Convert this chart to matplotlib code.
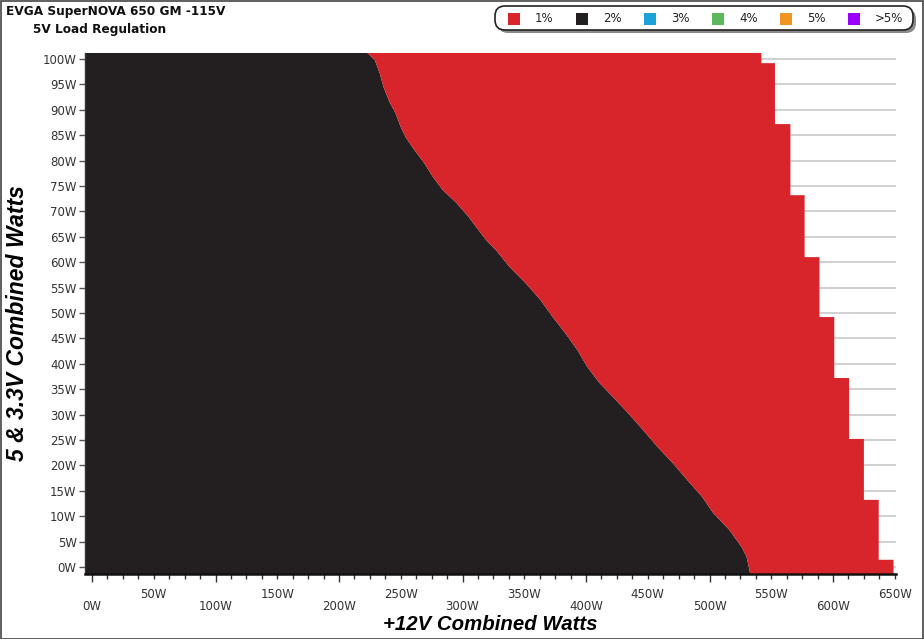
import matplotlib
matplotlib.use("Agg")
import matplotlib.pyplot as plt
from matplotlib.patches import Polygon, FancyBboxPatch, Rectangle
import numpy as np

# ---------------- data ----------------
title = "EVGA SuperNOVA 650 GM -115V"
subtitle = "5V Load Regulation"
legend_labels = ["1%", "2%", "3%", "4%", "5%", ">5%"]
legend_colors = ["#d7252b", "#231f20", "#1ba3d8", "#5cb85c", "#f0951f", "#9b00ff"]

# boundary between the 2% (left) and 1% (right) zones: 5V load -> 12V load
boundary_5v = [-1.4, 2.0, 3.9, 7.3, 10.6, 13.8, 17.1, 20.5, 23.6, 27.0, 30.3, 32.9,
               36.2, 39.4, 42.7, 46.1, 49.2, 52.6, 55.9, 59.1, 62.4, 64.4, 66.3,
               68.9, 71.7, 74.2, 76.8, 79.5, 82.1, 84.6, 86.6, 89.2, 91.5, 94.5,
               97.2, 99.8, 101.2]
boundary_12v = [533, 530, 526, 516, 503, 494, 482, 470, 458, 446, 434, 424,
                411, 401, 393, 383, 373, 363, 351, 338, 327, 319, 313,
                305, 295, 284, 276, 269, 261, 254, 250, 246, 241, 236,
                233, 229, 223]

# maximum combined load envelope (step edges in 5V load, max 12V load per band)
max_5v_edges = [-1.4, 1.4, 13.2, 25.2, 37.2, 49.2, 61.0, 73.2, 87.2, 99.2, 101.2]
max_12v = [649, 637, 625, 613, 601, 589, 577, 565.5, 553, 542]

x_ticks_major = list(range(0, 651, 50))
y_ticks = list(range(0, 101, 5))

# ---------------- figure ----------------
W, H = 924, 639
fig = plt.figure(figsize=(W / 100, H / 100), dpi=100)
fig.patch.set_facecolor("white")

ax_l, ax_r, ax_t, ax_b = 85, 896, 53, 574
ax = fig.add_axes([ax_l / W, 1 - ax_b / H, (ax_r - ax_l) / W, (ax_b - ax_t) / H])
xmin, xmax = -5.7, 651
ymin, ymax = -1.4, 101.2
ax.set_xlim(xmin, xmax)
ax.set_ylim(ymin, ymax)

red, black = legend_colors[0], legend_colors[1]

# black (2%) region
blk = [(xmin, boundary_5v[0])] + list(zip(boundary_12v, boundary_5v)) + [(xmin, boundary_5v[-1])]
ax.add_patch(Polygon(blk, closed=True, facecolor=black, edgecolor="none", zorder=2))

# red (1%) region
pts = list(zip(boundary_12v, boundary_5v))
for i in reversed(range(len(max_12v))):
    pts.append((max_12v[i], max_5v_edges[i + 1]))
    pts.append((max_12v[i], max_5v_edges[i]))
ax.add_patch(Polygon(pts, closed=True, facecolor=red, edgecolor="none", zorder=2))

# grid
ax.set_yticks(y_ticks)
ax.set_yticklabels([f"{v}W" for v in y_ticks])
ax.yaxis.grid(True, color="#c8c8c8", linewidth=1.2, zorder=0)
ax.set_axisbelow(True)
ax.tick_params(axis="y", direction="out", length=4, width=1, color="#555555",
               labelsize=8.5, labelcolor="#333333", pad=2)

# x ticks
ax.set_xticks([v for v in x_ticks_major if v % 100 == 0])
ax.set_xticklabels([])
ax.set_xticks(list(np.arange(0, 651, 12.5)), minor=True)
ax.tick_params(axis="x", which="major", direction="out", length=6, width=1, color="#333333")
ax.tick_params(axis="x", which="minor", direction="out", length=3.5, width=1, color="#333333")
ax.tick_params(axis="y", which="minor", length=0)

trans = ax.get_xaxis_transform()
for v in x_ticks_major:
    if v % 100 == 0:
        yy = -(607 - ax_b) / (ax_b - ax_t)
    else:
        yy = -(594 - ax_b) / (ax_b - ax_t)
    ax.text(v, yy, f"{v}W", transform=trans, ha="center", va="center",
            fontsize=8.5, color="#333333")

for s in ["top", "right"]:
    ax.spines[s].set_visible(False)
ax.spines["bottom"].set_linewidth(1.8)
ax.spines["bottom"].set_color("#111111")
ax.spines["left"].set_linewidth(1.0)
ax.spines["left"].set_color("#333333")

# axis titles
fig.text(490 / W, 1 - 625 / H, "+12V Combined Watts", ha="center", va="center",
         fontsize=14.7, fontweight="bold", fontstyle="italic", family="Liberation Sans")
fig.text(18 / W, 1 - 323 / H, "5 & 3.3V Combined Watts", ha="center", va="center",
         rotation=90, fontsize=16.5, fontweight="bold", fontstyle="italic",
         family="Liberation Sans")

# titles
fig.text(6 / W, 1 - 12 / H, title, ha="left", va="center", fontsize=8.7,
         fontweight="bold", color="#111111")
fig.text(33 / W, 1 - 29 / H, subtitle, ha="left", va="center", fontsize=8.7,
         fontweight="bold", color="#111111")

# legend box (pixel coordinates, origin bottom-left)
lx0, lx1, ly0, ly1 = 495, 913, H - 30, H - 6
shadow = FancyBboxPatch((lx0 + 3, ly0 - 3), lx1 - lx0, ly1 - ly0,
                        boxstyle="round,pad=0,rounding_size=10",
                        facecolor="#8a8a8a", edgecolor="none", transform=None, zorder=5)
box = FancyBboxPatch((lx0, ly0), lx1 - lx0, ly1 - ly0,
                     boxstyle="round,pad=0,rounding_size=10",
                     facecolor="white", edgecolor="#222222", linewidth=1.2,
                     transform=None, zorder=6)
fig.patches.extend([shadow, box])
for i, (lab, col) in enumerate(zip(legend_labels, legend_colors)):
    sx = 508 + 68 * i
    fig.patches.append(Rectangle((sx, H - 25), 12, 12, facecolor=col,
                                 edgecolor="none", transform=None, zorder=7))
    fig.text((sx + 27) / W, 1 - 18.5 / H, lab, ha="left", va="center",
             fontsize=8.5, color="#222222", zorder=8)

# outer frame
fig.patches.append(Rectangle((0.5, 0.5), W - 1.5, H - 1.5, facecolor="none",
                             edgecolor="#444444", linewidth=1.2, transform=None, zorder=10))

fig.savefig("out.png", dpi=100)
